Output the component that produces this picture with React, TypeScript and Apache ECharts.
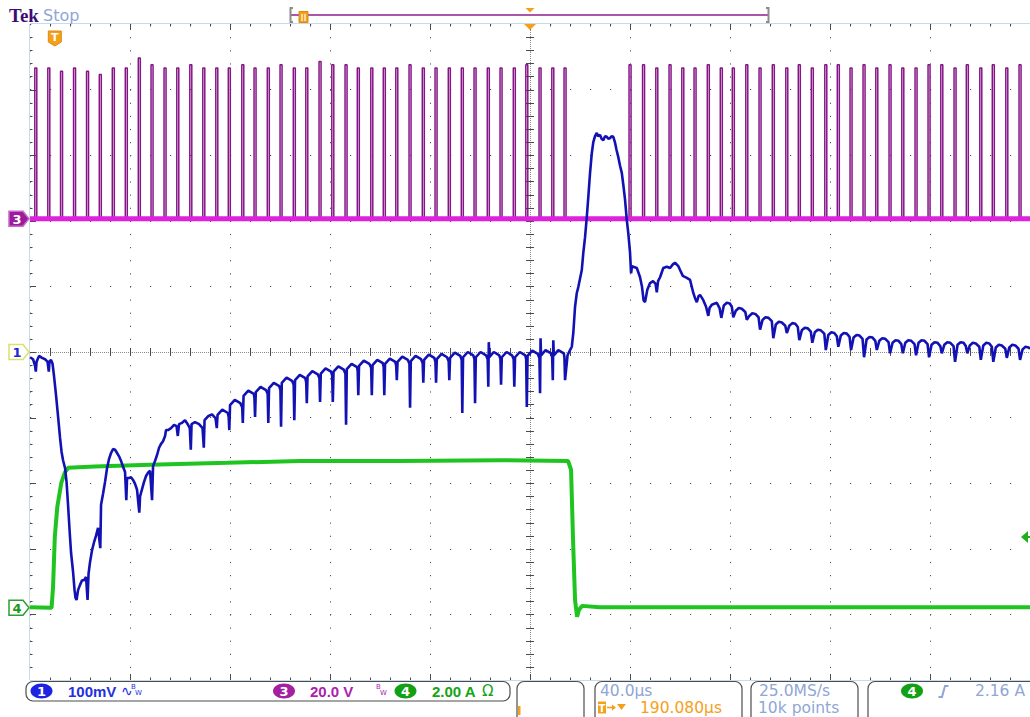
import React, { useEffect, useRef } from "react";
import * as echarts from "echarts";

// Horizontal: 40 µs/div, 10 divisions, centre of screen 190.080 µs after the trigger
const TIME_PER_DIV = 40;
const DELAY_US = 190.08;
const T_MIN = DELAY_US - 5 * TIME_PER_DIV;
const T_MAX = DELAY_US + 5 * TIME_PER_DIV;

// Vertical settings of each channel: units per division and position in divisions
const CH1_SCALE_MV = 100;
const CH1_POS = 0;
const CH3_SCALE_V = 20;
const CH3_POS = 2.03;
const CH4_SCALE_A = 2;
const CH4_POS = -3.9;
const TRIGGER_LEVEL_A = 2.16;

// CH3 gate pulses: centre time (µs) and top level (V)
const ch3PulseTimesA = [
  -7.6, -2.4, 2.7, 7.9, 13.1, 18.2, 23.4, 28.6, 33.8, 38.9, 44.1, 49.2, 54.4, 59.6,
  64.8, 69.8, 75.2, 80.1, 85.4, 90.5, 95.8, 100.8, 106.1, 111.2, 116.5, 121.4, 126.8,
  131.8, 136.8, 142.1, 147.4, 152.5, 157.8, 163.0, 168.1, 173.4, 178.5, 183.8, 188.8,
  194.1, 199.2, 204.1,
];
const ch3PulseTopsA = [
  46, 46, 45, 46, 45, 44, 46, 46, 49, 47, 46, 46, 47, 46, 46, 46, 47, 46, 46, 47, 46,
  46, 48, 47, 47, 46, 46, 46, 46, 47, 46, 46, 46, 46, 46, 46, 46, 46, 47, 46, 46, 46,
];
const ch3PulseTimesB = [
  230.1, 235.5, 240.8, 246.1, 251.2, 256.1, 261.4, 266.6, 271.4, 276.8, 282.1, 287.4,
  292.8, 297.8, 303.0, 308.4, 313.4, 318.5, 323.7, 328.8, 334.1, 339.2, 344.5, 349.7,
  354.8, 360.1, 365.0, 370.4, 375.4, 380.8, 386.1,
];
const ch3PulseTopsB = [
  47, 47, 46, 47, 46, 46, 47, 46, 46, 47, 46, 47, 46, 47, 46, 47, 47, 46, 47, 46, 47,
  46, 46, 47, 47, 46, 47, 46, 47, 46, 47,
];
const CH3_PULSE_HALF_WIDTH_US = 0.4;

// CH1 (mV) against time (µs): pre-trigger level and collapse
const ch1Lead = [
  [-9.9, -8], [-8.7, -11], [-7.9, -21], [-7.6, -30], [-7.3, -15], [-6.3, -6], [-5.1, -9],
  [-3.9, -11], [-2.9, -15], [-2.4, -30], [-2.1, -14], [-1.5, -12], [-0.9, -18],
  [-0.3, -37], [0.5, -66], [1.3, -98], [2.1, -131], [2.7, -152], [3.3, -165], [4.1, -177],
  [4.7, -198], [5.3, -233], [5.9, -271], [6.5, -306], [7.3, -335], [7.9, -363], [8.3, -375],
  [8.7, -378], [9.3, -363], [10.1, -355], [10.9, -348], [11.7, -348], [12.5, -343],
  [13.1, -378], [13.5, -338], [14.1, -320], [14.9, -302], [15.7, -290], [16.5, -280],
  [17.3, -268], [18.2, -299], [18.5, -233], [19.3, -216], [20.1, -198], [20.9, -177],
  [21.7, -163], [22.5, -154], [23.3, -148], [24.1, -149], [24.9, -154], [25.7, -159],
  [26.5, -166], [27.3, -175], [28.1, -183], [28.6, -226], [28.9, -192], [29.7, -192],
  [30.5, -191], [31.3, -195], [32.1, -201], [32.9, -210], [33.8, -245], [34.1, -220],
  [34.9, -209], [35.7, -198], [36.5, -189], [37.3, -184], [38.1, -181], [38.9, -226],
  [39.3, -174], [40.1, -166], [40.9, -157], [41.7, -146], [42.5, -140], [43.3, -136],
  [44.1, -128], [44.5, -119], [45.3, -119], [46.5, -116], [47.7, -111], [48.7, -113],
  [49.2, -128], [49.7, -110], [50.9, -108], [52.1, -104], [53.3, -111], [54.0, -116],
  [54.4, -149], [54.7, -110], [56.1, -107], [57.7, -110], [59.1, -116], [59.6, -146],
  [59.9, -104], [61.3, -98], [62.9, -95], [64.3, -101],
];

// CH1 recovery while the current is on, with a dip at every gate pulse
const ch1Ramp = [
  [64.8, -116], [65.1, -96], [67.0, -88], [69.2, -93], [69.55, -99],
  [69.8, -119], [70.1, -81], [72.0, -73], [74.2, -78], [74.95, -84],
  [75.2, -108], [75.5, -67], [77.4, -59], [79.6, -64], [79.85, -70],
  [80.1, -99], [80.4, -61], [82.3, -53], [84.5, -58], [85.15, -64],
  [85.4, -108], [85.7, -55], [87.6, -47], [89.8, -52], [90.25, -58],
  [90.5, -114], [90.8, -47], [92.7, -39], [94.9, -44], [95.55, -50],
  [95.8, -104], [96.1, -43], [98.0, -35], [100.2, -40], [100.55, -46],
  [100.8, -78], [101.1, -37], [103.0, -29], [105.2, -34], [105.85, -40],
  [106.1, -76], [106.4, -33], [108.3, -25], [110.5, -30], [110.95, -36],
  [111.2, -76], [111.5, -30], [113.4, -22], [115.6, -27], [116.25, -33],
  [116.5, -111], [116.8, -26], [118.7, -18], [120.9, -23], [121.15, -29],
  [121.4, -66], [121.7, -21], [123.6, -13], [125.8, -18], [126.55, -24],
  [126.8, -66], [127.1, -20], [129.0, -12], [131.2, -17], [131.55, -23],
  [131.8, -66], [132.1, -18], [134.0, -10], [136.2, -15], [136.55, -21],
  [136.8, -43], [137.1, -15], [139.0, -7], [141.2, -12], [141.85, -18],
  [142.1, -85], [142.4, -14], [144.3, -6], [146.5, -11], [147.15, -17],
  [147.4, -47], [147.7, -12], [149.6, -4], [151.8, -9], [152.25, -15],
  [152.5, -47], [152.8, -11], [154.7, -3], [156.9, -8], [157.55, -14],
  [157.8, -43], [158.1, -9], [160.0, -1], [162.2, -6], [162.75, -12],
  [163.0, -93], [163.3, -8], [165.2, 0], [167.4, -5], [167.85, -11],
  [168.1, -78], [168.4, -8], [170.3, 0], [172.5, -5], [173.15, -11],
  [173.4, -53], [173.6, 15], [173.8, -8], [175.6, 0], [177.8, -5], [178.25, -11],
  [178.5, -50], [178.8, -8], [180.7, 0], [182.9, -5], [183.55, -11],
  [183.8, -53], [184.1, -8], [186.0, 0], [188.2, -5], [188.55, -11],
  [188.8, -84], [189.1, -6], [191.0, 2], [193.2, -3], [193.85, -9],
  [194.1, -63], [194.3, 21], [194.5, -5], [196.3, 3], [198.5, -2], [198.95, -8],
  [199.2, -43], [199.4, 18], [199.6, -5], [201.4, 3], [203.6, -2], [203.85, -8],
];

// CH1 overshoot after the current is switched off
const ch1Peak = [
  [204.1, -43], [205.1, -5], [206.1, 3], [206.8, 8], [207.4, 29], [208.1, 69], [208.8, 90],
  [209.4, 99], [210.8, 125], [211.4, 151], [212.1, 175], [212.8, 206], [213.4, 236],
  [214.1, 273], [214.8, 303], [215.4, 320], [216.1, 329], [216.8, 334], [217.3, 329],
  [218.1, 331], [218.7, 325], [219.4, 323], [220.1, 329], [220.8, 328], [221.5, 325],
  [222.1, 326], [222.7, 329], [223.4, 328], [224.1, 319], [224.7, 308], [225.4, 297],
  [226.1, 284], [226.8, 273], [227.4, 255], [228.1, 232], [228.8, 201], [229.4, 181],
  [230.1, 151], [230.5, 120], [230.9, 131], [231.4, 130], [232.8, 128], [234.1, 114],
  [234.9, 99], [235.5, 79], [236.1, 76], [237.0, 95], [238.1, 105], [239.3, 108],
  [240.3, 104], [240.8, 91], [241.3, 108], [242.1, 114], [243.4, 128], [244.8, 130],
  [246.1, 128], [247.3, 134], [248.1, 136], [249.4, 131], [250.1, 125], [251.2, 116],
  [252.8, 113], [254.1, 110], [255.4, 90], [256.1, 82], [256.8, 76], [257.5, 85],
  [258.1, 87], [259.4, 79], [260.5, 69], [261.4, 55], [261.9, 67], [262.8, 72],
  [264.8, 75], [265.9, 67],
];

// CH1 decay back to the baseline
const ch1Decay = [
  [266.6, 52], [267.6, 71], [268.8, 75], [270.0, 74], [270.8, 69],
  [271.4, 53], [272.4, 63], [273.6, 67], [274.8, 66], [276.2, 61],
  [276.8, 49], [277.8, 55], [279.0, 59], [280.2, 58], [281.5, 53],
  [282.1, 34], [283.1, 49], [284.3, 53], [285.5, 52], [286.8, 47],
  [287.4, 21], [288.4, 42], [289.6, 46], [290.8, 45], [292.2, 40],
  [292.8, 29], [293.8, 40], [295.0, 44], [296.2, 43], [297.2, 38],
  [297.8, 18], [298.8, 33], [300.0, 37], [301.2, 36], [302.4, 31],
  [303.0, 14], [304.0, 30], [305.2, 34], [306.4, 33], [307.8, 28],
  [308.4, 3], [309.4, 26], [310.6, 30], [311.8, 29], [312.8, 24],
  [313.4, 8], [314.4, 25], [315.6, 29], [316.8, 28], [317.9, 23],
  [318.5, 3], [319.5, 22], [320.7, 26], [321.9, 25], [323.1, 20],
  [323.7, -8], [324.7, 19], [325.9, 23], [327.1, 22], [328.2, 17],
  [328.8, 3], [329.8, 17], [331.0, 21], [332.2, 20], [333.5, 15],
  [334.1, -2], [335.1, 14], [336.3, 18], [337.5, 17], [338.6, 12],
  [339.2, -2], [340.2, 14], [341.4, 18], [342.6, 17], [343.9, 12],
  [344.5, -5], [345.5, 14], [346.7, 18], [347.9, 17], [349.1, 12],
  [349.7, -8], [350.7, 11], [351.9, 15], [353.1, 14], [354.2, 9],
  [354.8, -2], [355.8, 11], [357.0, 15], [358.2, 14], [359.5, 9],
  [360.1, -15], [361.1, 11], [362.3, 15], [363.5, 14], [364.4, 9],
  [365.0, -2], [366.0, 10], [367.2, 14], [368.4, 13], [369.8, 8],
  [370.4, -12], [371.4, 10], [372.6, 14], [373.8, 13], [374.8, 8],
  [375.4, -15], [376.4, 7], [377.6, 11], [378.8, 10], [380.2, 5],
  [380.8, -9], [381.8, 7], [383.0, 11], [384.2, 10], [385.5, 5],
  [386.1, -12], [387.1, 4], [388.3, 8], [389.5, 7], [390.08, 5],
];

// CH4 current (A) against time (µs)
const ch4Current = [
  [-9.92, 0.02], [-1.3, 0.0], [-0.7, 0.64], [0.0, 2.16], [1.0, 3.08], [2.6, 3.81],
  [4.0, 4.12], [5.3, 4.27], [16, 4.31], [38, 4.36], [69, 4.42], [98, 4.48], [138, 4.48],
  [178, 4.5], [205.3, 4.48], [206.5, 4.21], [207.3, 2.07], [208.1, 0.24], [208.9, -0.27],
  [209.7, -0.06], [210.9, 0.06], [218, 0.02], [390.08, 0.02],
];

// Status bar readouts
const CH1_LABEL = "100mV";
const CH3_LABEL = "20.0 V";
const CH4_LABEL = "2.00 A";
const TIMEBASE_LABEL = "40.0µs";
const DELAY_LABEL = "190.080µs";
const SAMPLE_RATE_LABEL = "25.0MS/s";
const RECORD_LABEL = "10k points";
const TRIGGER_LABEL = "2.16 A";

const GRID = { left: 30, top: 24, width: 1000, height: 656 };

function buildPulseTrain(times: number[], tops: number[]) {
  const pts: number[][] = [];
  times.forEach((tc, i) => {
    pts.push([tc - CH3_PULSE_HALF_WIDTH_US, 0]);
    pts.push([tc - CH3_PULSE_HALF_WIDTH_US, tops[i]]);
    pts.push([tc + CH3_PULSE_HALF_WIDTH_US, tops[i]]);
    pts.push([tc + CH3_PULSE_HALF_WIDTH_US, 0]);
  });
  return pts;
}

const ch3Trace = [
  [T_MIN, 0],
  ...buildPulseTrain(ch3PulseTimesA, ch3PulseTopsA),
  ...buildPulseTrain(ch3PulseTimesB, ch3PulseTopsB),
  [T_MAX, 0],
];
const ch1Trace = [...ch1Lead, ...ch1Ramp, ...ch1Peak, ...ch1Decay];

const axisRange = (scale: number, pos: number) => ({
  min: (-5 - pos) * scale,
  max: (5 - pos) * scale,
});

const BLUE = "#1212b4";
const BLUE_TEXT = "#2430e0";
const MAGENTA = "#dc22dc";
const PURPLE = "#861486";
const PURPLE_TEXT = "#ac1eac";
const GREEN = "#20c420";
const GREEN_TEXT = "#14a414";
const ORANGE = "#f5a01a";
const READOUT = "#8fa6d6";

function line(x1: number, y1: number, x2: number, y2: number, stroke: string, lineWidth = 1, z = 1, lineDash?: number[]) {
  return { type: "line", silent: true, z, shape: { x1, y1, x2, y2 }, style: { stroke, lineWidth, lineDash } };
}
function text(x: number, y: number, t: string, fill: string, font: string, align = "left", z = 20) {
  return { type: "text", silent: true, z, x, y, style: { text: t, fill, font, align, verticalAlign: "middle" } };
}
function badge(cx: number, cy: number, label: string, fill: string) {
  return [
    { type: "ellipse", silent: true, z: 20, shape: { cx, cy, rx: 11, ry: 7.5 }, style: { fill } },
    text(cx, cy + 0.5, label, "#ffffff", 'bold 13px "DejaVu Sans"', "center", 21),
  ];
}
function chanMarker(y: number, label: string, fill: string, stroke: string, textColor: string) {
  return [
    {
      type: "polygon", silent: true, z: 30,
      shape: { points: [[9, y - 7.5], [23, y - 7.5], [29, y], [23, y + 7.5], [9, y + 7.5]] },
      style: { fill, stroke, lineWidth: 1.5 },
    },
    text(17, y + 0.5, label, textColor, 'bold 13px "DejaVu Sans"', "center", 31),
  ];
}

function buildGraphics(m: { xTrig: number; xCenter: number; yTrig: number; y1: number; y3: number; y4: number }) {
  const els: any[] = [];
  const L = GRID.left, T = GRID.top, R = GRID.left + GRID.width, B = GRID.top + GRID.height;
  const CX = L + GRID.width / 2, CY = T + GRID.height / 2;
  const DX = GRID.width / 50, DY = GRID.height / 50;
  const tick = "#4a4a4a";

  // frame
  els.push(line(29.5, T, 29.5, B, "#c6daee", 1, 1));
  els.push(line(L, 23.5, R, 23.5, "#c6daee", 1, 1));
  els.push(line(L, B + 0.5, R, B + 0.5, "#c6daee", 1, 1));
  // centre cross-hair
  els.push(line(L, CY + 0.5, R, CY + 0.5, "#8a8a8a", 1, 1, [1, 1]));
  els.push(line(CX + 0.5, T, CX + 0.5, B, "#8a8a8a", 1, 1, [1, 1]));
  for (let k = 1; k < 50; k++) {
    const x = Math.round(L + k * DX) + 0.5;
    const major = k % 5 === 0;
    els.push(line(x, T, x, T + (major ? 6 : 2.5), tick, 1, 1));
    els.push(line(x, B - (major ? 6 : 2.5), x, B, tick, 1, 1));
    els.push(line(x, CY - 4, x, CY + 4, tick, 1, 1));
    const y = Math.round(T + k * DY) + 0.5;
    els.push(line(L, y, L + (major ? 6 : 2.5), y, tick, 1, 1));
    els.push(line(CX - 4, y, CX + 4, y, tick, 1, 1));
  }

  // Tek / Stop header
  els.push(text(9, 15, "Tek", "#3d0d74", 'bold 19px "Liberation Serif"'));
  els.push(text(43, 15, "Stop", READOUT, '16px "DejaVu Sans"'));

  // record view bar
  els.push({ type: "polyline", silent: true, z: 20, shape: { points: [[293, 8], [290.5, 8], [290.5, 22], [293, 22]] }, style: { stroke: "#8c8c8c", lineWidth: 2, fill: "none" } });
  els.push({ type: "polyline", silent: true, z: 20, shape: { points: [[766, 8], [768.5, 8], [768.5, 22], [766, 22]] }, style: { stroke: "#8c8c8c", lineWidth: 2, fill: "none" } });
  els.push(line(291, 15, 768, 15, "#8e1f8e", 1.5, 19));
  els.push({ type: "rect", silent: true, z: 20, shape: { x: 299, y: 11.5, width: 9, height: 11 }, style: { fill: ORANGE, stroke: "#d98a10" } });
  els.push(line(302, 14, 302, 21, "#ffffff", 1.2, 21));
  els.push(line(305, 14, 305, 21, "#ffffff", 1.2, 21));
  els.push({ type: "polygon", silent: true, z: 20, shape: { points: [[m.xCenter - 4.5, 8], [m.xCenter + 4.5, 8], [m.xCenter, 12.5]] }, style: { fill: ORANGE } });
  // expansion point at the top of the graticule
  els.push({ type: "polygon", silent: true, z: 20, shape: { points: [[m.xCenter - 6, 24], [m.xCenter + 6, 24], [m.xCenter, 30]] }, style: { fill: ORANGE } });

  // trigger position marker
  els.push({
    type: "polygon", silent: true, z: 20,
    shape: { points: [[m.xTrig - 6.5, 31], [m.xTrig + 6.5, 31], [m.xTrig + 6.5, 42], [m.xTrig, 46], [m.xTrig - 6.5, 42]] },
    style: { fill: ORANGE, stroke: "#e08a10", lineWidth: 1 },
  });
  els.push(text(m.xTrig, 37.5, "T", "#ffffff", 'bold 11px "DejaVu Sans"', "center", 21));

  // channel ground markers
  els.push(...chanMarker(m.y3, "3", "#9b1b9b", "#c86ac8", "#ffffff"));
  els.push(...chanMarker(m.y1, "1", "#ffffff", "#dede6e", "#2323d0"));
  els.push(...chanMarker(m.y4, "4", "#ffffff", "#2e9e2e", "#1a9a1a"));

  // trigger level arrow
  els.push({ type: "polygon", silent: true, z: 30, shape: { points: [[1021, m.yTrig], [1028, m.yTrig - 6], [1028, m.yTrig + 6]] }, style: { fill: "#1eae1e" } });
  els.push(line(1027, m.yTrig, 1030, m.yTrig, "#1eae1e", 2, 30));

  // status bar boxes
  const box = (x: number, y: number, w: number, h: number) => ({
    type: "rect", silent: true, z: 15, shape: { x, y, width: w, height: h, r: 7 },
    style: { fill: "#ffffff", stroke: "#4d4d4d", lineWidth: 1.2 },
  });
  els.push(box(26, 681.5, 484, 19.5));
  els.push(box(517, 681.5, 67, 50));
  els.push(box(595, 681.5, 147, 50));
  els.push(box(751, 681.5, 107, 50));
  els.push(box(868, 681.5, 190, 50));

  const yRow = 691;
  const yRow2 = 707.5;
  const readoutFont = '15.5px "DejaVu Sans"';
  els.push(...badge(41.5, yRow, "1", "#1e22e2"));
  els.push(text(68, yRow, CH1_LABEL, BLUE_TEXT, 'bold 15px "Liberation Sans"'));
  els.push(text(121, yRow, "∿", BLUE_TEXT, '14px "DejaVu Sans"'));
  els.push(text(131, yRow - 4, "B", BLUE_TEXT, '7px "DejaVu Sans"'));
  els.push(text(135, yRow + 2, "W", BLUE_TEXT, '7px "DejaVu Sans"'));

  els.push(...badge(284, yRow, "3", "#a3209f"));
  els.push(text(310, yRow, CH3_LABEL, PURPLE_TEXT, 'bold 15px "Liberation Sans"'));
  els.push(text(376, yRow - 4, "B", PURPLE_TEXT, '7px "DejaVu Sans"'));
  els.push(text(380, yRow + 2, "W", PURPLE_TEXT, '7px "DejaVu Sans"'));

  els.push(...badge(405.5, yRow, "4", "#14a014"));
  els.push(text(432, yRow, CH4_LABEL, GREEN_TEXT, 'bold 15px "Liberation Sans"'));
  els.push(text(482, yRow, "Ω", GREEN_TEXT, '15px "DejaVu Sans"'));

  els.push({ type: "rect", silent: true, z: 20, shape: { x: 518, y: 706, width: 2.5, height: 9 }, style: { fill: ORANGE } });

  els.push({ ...text(600, yRow, TIMEBASE_LABEL, READOUT, readoutFont), style: { text: TIMEBASE_LABEL, fill: READOUT, font: readoutFont, align: "left", verticalAlign: "middle", lineHeight: 14 } });
  els.push({ type: "rect", silent: true, z: 20, shape: { x: 598, y: 701.5, width: 8, height: 12 }, style: { fill: ORANGE } });
  els.push(text(602, 708, "T", "#ffffff", 'bold 10px "DejaVu Sans"', "center", 21));
  els.push(line(607, 707.5, 613, 707.5, ORANGE, 1.6, 20));
  els.push({ type: "polygon", silent: true, z: 20, shape: { points: [[612, 704.5], [616, 707.5], [612, 710.5]] }, style: { fill: ORANGE } });
  els.push({ type: "polygon", silent: true, z: 20, shape: { points: [[617, 704], [626, 704], [621.5, 710]] }, style: { fill: ORANGE } });
  els.push({ ...text(640, yRow2, DELAY_LABEL, ORANGE, readoutFont), style: { text: DELAY_LABEL, fill: ORANGE, font: readoutFont, align: "left", verticalAlign: "middle", lineHeight: 14 } });

  els.push({ ...text(759, yRow, SAMPLE_RATE_LABEL, READOUT, readoutFont), style: { text: SAMPLE_RATE_LABEL, fill: READOUT, font: readoutFont, align: "left", verticalAlign: "middle", lineHeight: 14 } });
  els.push({ ...text(758, yRow2, RECORD_LABEL, READOUT, readoutFont), style: { text: RECORD_LABEL, fill: READOUT, font: readoutFont, align: "left", verticalAlign: "middle", lineHeight: 14 } });

  els.push(...badge(912, yRow, "4", "#14a014"));
  els.push({ type: "polyline", silent: true, z: 20, shape: { points: [[938.5, 697], [942, 697], [945, 686], [948.5, 686]] }, style: { stroke: READOUT, lineWidth: 2, fill: "none" } });
  els.push(text(1025, yRow, TRIGGER_LABEL, READOUT, readoutFont, "right"));

  return els;
}

const gridAxisStyle = {
  axisLine: { show: false },
  axisTick: { show: false },
  axisLabel: { show: false },
};

export default function App() {
  const ref = useRef<HTMLDivElement>(null);

  useEffect(() => {
    const el = ref.current;
    if (!el) return;
    const chart = echarts.init(el, null, { renderer: "svg" });

    chart.setOption({
      animation: false,
      backgroundColor: "#ffffff",
      grid: { ...GRID, containLabel: false },
      xAxis: [
        { type: "value", min: T_MIN, max: T_MAX, show: false },
        {
          type: "value", min: 0, max: 10, interval: 1, ...gridAxisStyle,
          splitLine: { show: true, lineStyle: { color: "#505050", width: 1, type: [1.2, GRID.height / 50 - 1.2] } },
        },
      ],
      yAxis: [
        { type: "value", ...axisRange(CH1_SCALE_MV, CH1_POS), show: false },
        { type: "value", ...axisRange(CH3_SCALE_V, CH3_POS), show: false },
        { type: "value", ...axisRange(CH4_SCALE_A, CH4_POS), show: false },
        {
          type: "value", min: 0, max: 10, interval: 1, ...gridAxisStyle,
          splitLine: { show: true, lineStyle: { color: "#505050", width: 1, type: [1.2, GRID.width / 50 - 1.2] } },
        },
      ],
      series: [
        {
          name: "CH3", type: "line", xAxisIndex: 0, yAxisIndex: 1, data: ch3Trace,
          symbol: "none", silent: true, z: 2, lineStyle: { color: PURPLE, width: 1.5 },
        },
        {
          name: "CH3 baseline", type: "line", xAxisIndex: 0, yAxisIndex: 1,
          data: [[T_MIN, 0], [T_MAX, 0]],
          symbol: "none", silent: true, z: 3, lineStyle: { color: MAGENTA, width: 5 },
        },
        {
          name: "CH4", type: "line", xAxisIndex: 0, yAxisIndex: 2, data: ch4Current,
          symbol: "none", silent: true, z: 4, lineStyle: { color: GREEN, width: 4 },
        },
        {
          name: "CH1", type: "line", xAxisIndex: 0, yAxisIndex: 0, data: ch1Trace,
          symbol: "none", silent: true, z: 5, lineStyle: { color: BLUE, width: 2.6 },
        },
      ],
    });

    const px = (finder: any, v: number) => chart.convertToPixel(finder, v) as unknown as number;
    const graphics = buildGraphics({
      xTrig: px({ xAxisIndex: 0 }, 0),
      xCenter: px({ xAxisIndex: 0 }, DELAY_US),
      yTrig: px({ yAxisIndex: 2 }, TRIGGER_LEVEL_A),
      y1: px({ yAxisIndex: 0 }, 0),
      y3: px({ yAxisIndex: 1 }, 0),
      y4: px({ yAxisIndex: 2 }, 0),
    });
    chart.setOption({ graphic: { elements: graphics } });

    return () => chart.dispose();
  }, []);

  return (
    <div
      ref={ref}
      style={{ position: "fixed", left: 0, top: 0, width: 1030, height: 717, background: "#ffffff" }}
    />
  );
}
